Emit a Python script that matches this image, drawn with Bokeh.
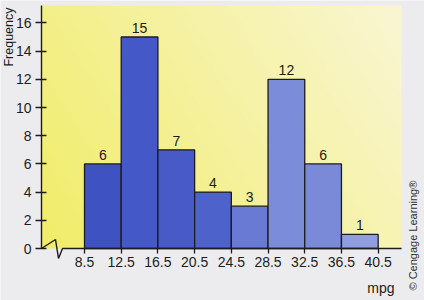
import numpy as np
from bokeh.plotting import figure
from bokeh.models import Range1d, FixedTicker, Label, ColumnDataSource
from bokeh.core.properties import value
from bokeh.embed import file_html
from bokeh.resources import INLINE

# Class boundaries (mpg) and frequencies of each class
edges = [8.5, 12.5, 16.5, 20.5, 24.5, 28.5, 32.5, 36.5, 40.5]
freq = [6, 15, 7, 4, 3, 12, 6, 1]
bar_colors = ["#3f52c2", "#4558c8", "#475ac8", "#4e62cb",
              "#687ad3", "#7b8cdb", "#7a8ad8", "#909ee0"]
y_ticks = [0, 2, 4, 6, 8, 10, 12, 14, 16]

FONT = "Liberation Sans"
INK = "#1c1c1c"
PAPER = "#ececef"

W, H = 424, 300
PX_X = 9.177    # pixels per mpg
PX_Y = 14.1     # pixels per unit of frequency

# the whole canvas is the plot frame; axes are pinned at fixed data positions
X0 = 8.5 - 84 / PX_X
X1 = X0 + W / PX_X
Y1 = 248 / PX_Y
Y0 = Y1 - H / PX_Y

AX_X = X0 + 41 / PX_X          # where the vertical axis stands
PANEL_R = AX_X + 360 / PX_X    # right end of the yellow panel / horizontal axis
PANEL_T = Y1 - 5 / PX_Y        # top of the yellow panel

p = figure(width=W, height=H, x_range=Range1d(X0, X1), y_range=Range1d(Y0, Y1),
           output_backend="svg", toolbar_location=None, tools="",
           min_border_left=0, min_border_right=0,
           min_border_top=0, min_border_bottom=0)
p.background_fill_color = PAPER
p.border_fill_color = PAPER
p.outline_line_color = None
p.grid.visible = False

# yellow panel behind the bars: saturated at lower left, paler to the upper right
nx, ny = 240, 120
u = np.linspace(0, 1, nx)[None, :]
v = np.linspace(0, 1, ny)[:, None]
t = np.clip(0.7 * u + 0.3 * v, 0, 1)
c0 = np.array([241, 237, 104])
c1 = np.array([250, 246, 212])
rgba = np.empty((ny, nx, 4), dtype=np.uint8)
for k in range(3):
    rgba[:, :, k] = (c0[k] + (c1[k] - c0[k]) * t).astype(np.uint8)
rgba[:, :, 3] = 255
img = rgba.view(np.uint32).reshape(ny, nx)
p.image_rgba(image=[img], x=AX_X, y=0, dw=PANEL_R - AX_X, dh=PANEL_T)

# histogram bars
src = ColumnDataSource(dict(
    left=edges[:-1], right=edges[1:], top=freq, color=bar_colors,
    mid=[(a + b) / 2 for a, b in zip(edges[:-1], edges[1:])],
    label=[str(f) for f in freq],
))
p.quad(left="left", right="right", bottom=0, top="top", source=src,
       fill_color="color", line_color=INK, line_width=1.3)
p.text(x="mid", y="top", text="label", source=src, text_align="center",
       text_baseline="bottom", y_offset=-4, text_color=INK,
       text_font=value(FONT), text_font_size="14px")

# horizontal axis line with a break symbol near the origin
brk_dx = [0, 14, 17, 21, 23, 360]
brk_dy = [0, 9, -10, 0, 0, 0]
p.line([AX_X + d / PX_X for d in brk_dx], [d / PX_Y for d in brk_dy],
       line_color=INK, line_width=1.4)

xa = p.xaxis[0]
xa.fixed_location = 0
xa.ticker = FixedTicker(ticks=edges)
xa.axis_line_color = None
xa.major_tick_in = 0
xa.major_tick_out = 5
xa.major_tick_line_color = INK
xa.major_tick_line_width = 1.3
xa.minor_tick_line_color = None
xa.major_label_standoff = 3
xa.major_label_text_font = FONT
xa.major_label_text_font_size = "14px"
xa.major_label_text_color = INK

ya = p.yaxis[0]
ya.fixed_location = AX_X
ya.bounds = (0, PANEL_T)
ya.ticker = FixedTicker(ticks=y_ticks)
ya.axis_line_color = INK
ya.axis_line_width = 1.4
ya.major_tick_in = 5
ya.major_tick_out = 6
ya.major_tick_line_color = INK
ya.major_tick_line_width = 1.3
ya.minor_tick_line_color = None
ya.major_label_standoff = 4
ya.major_label_text_font = FONT
ya.major_label_text_font_size = "14px"
ya.major_label_text_color = INK

p.add_layout(Label(x=AX_X, y=15, x_offset=-33, text="Frequency",
                   angle=np.pi / 2, text_align="center", text_baseline="middle",
                   text_font=FONT, text_font_size="12.5px", text_color=INK))
p.add_layout(Label(x=PANEL_R, y=0, x_offset=-7, y_offset=-39, text="mpg",
                   text_align="right", text_baseline="alphabetic",
                   text_font=FONT, text_font_size="14px", text_color=INK))
p.add_layout(Label(x=PANEL_R, y=0, x_offset=11, y_offset=-42,
                   text="© Cengage Learning®", angle=np.pi / 2,
                   text_align="left", text_baseline="middle",
                   text_font=FONT, text_font_size="11px", text_color="#333333"))

open("out.html", "w").write(file_html(p, INLINE))
